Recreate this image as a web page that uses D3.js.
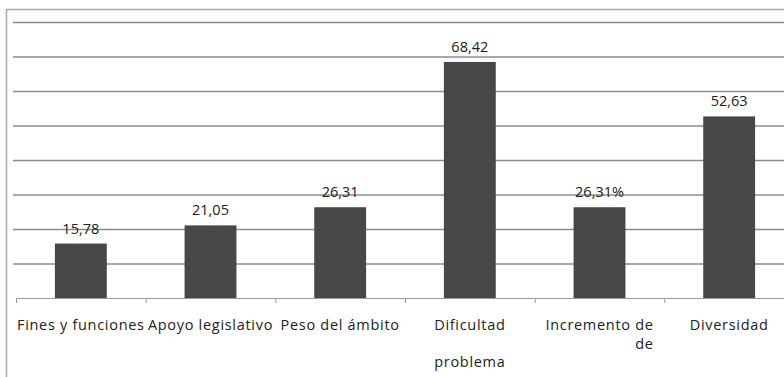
<!DOCTYPE html>
<html>
<head>
<meta charset="utf-8">
<script src="https://cdn.jsdelivr.net/npm/d3@7"></script>
<style>
	body { margin: 0; background: #fff; }
	svg { display: block; font-family: "Open Sans", sans-serif; }
	.grid line { stroke: #8c8c8c; stroke-width: 1.3; }
	.grid .domain { display: none; }
	.axis--x .domain { stroke: #9a9a9a; }
	.axis--x line { stroke: #9a9a9a; }
	.axis--x text { display: none; }
	.cat { letter-spacing: 0.7px; }
</style>
</head>
<body>
<svg class="chart" width="784" height="377"></svg>
<script>
(function() {

	var categories = ['Fines y funciones', 'Apoyo legislativo', 'Peso del ámbito', 'Dificultad', 'Incremento de', 'Diversidad']
	var values = [15.78, 21.05, 26.31, 68.42, 26.31, 52.63]
	var valueLabels = ['15,78', '21,05', '26,31', '68,42', '26,31%', '52,63']
	// extra label lines, as they show in the picture
	var extraLines = [null, null, null, {text: 'problema', dy: 37, align: 'middle'}, {text: 'de', dy: 19, align: 'end'}, null]
	var yTicks = [0, 10, 20, 30, 40, 50, 60, 70, 80]

	var svg = d3.select('.chart')
	var margin = { top: 22, left: 16, right: -10, bottom: 79 }
	var width = 784 - margin.left - margin.right
	var height = 377 - margin.top - margin.bottom
	var fontSize = 14.5

	// outer frame (cut off at the right edge)
	svg.append('path')
		.attr('d', 'M6.5,377 V9.5 H784')
		.attr('fill', 'none')
		.attr('stroke', '#a8a8a8')
		.attr('stroke-width', 1.5)

	var g = svg.append('g').attr('transform', 'translate(' + margin.left + ',' + margin.top + ')')

	var x = d3.scaleBand().domain(categories).range([0, width]).padding(0)
	var y = d3.scaleLinear().domain([0, 80]).range([height, 0])

	g.append('g')
		.attr('class', 'grid')
		.call(d3.axisLeft(y).tickValues(yTicks.slice(1)).tickSize(-width).tickFormat(''))
		.selectAll('.tick line').attr('x1', -3)

	var barW = x.bandwidth() * 0.4

	g.selectAll('.bar')
		.data(values)
		.enter()
		.append('rect')
		.attr('class', 'bar')
		.attr('x', function(d, i) { return x(categories[i]) + (x.bandwidth() - barW) / 2 })
		.attr('y', function(d) { return y(d) })
		.attr('width', barW)
		.attr('height', function(d) { return height - y(d) })
		.attr('fill', '#474747')

	g.selectAll('.val')
		.data(values)
		.enter()
		.append('text')
		.attr('class', 'val')
		.attr('x', function(d, i) { return x(categories[i]) + x.bandwidth() / 2 })
		.attr('y', function(d) { return y(d) - 10 })
		.attr('text-anchor', 'middle')
		.attr('font-size', fontSize)
		.attr('fill', '#222')
		.text(function(d, i) { return valueLabels[i] })

	var xAxis = g.append('g')
		.attr('class', 'axis axis--x')
		.attr('transform', 'translate(0,' + height + ')')
		.call(d3.axisBottom(x).tickSize(0))

	// band boundary ticks
	xAxis.selectAll('.sep')
		.data(categories)
		.enter()
		.append('line')
		.attr('class', 'sep')
		.attr('x1', function(d) { return x(d) + 0.5 })
		.attr('x2', function(d) { return x(d) + 0.5 })
		.attr('y1', 0)
		.attr('y2', 5)
		.attr('stroke', '#9a9a9a')

	categories.forEach(function(c, i) {
		var cx = x(c) + x.bandwidth() / 2
		var t = g.append('text')
			.attr('class', 'cat')
			.attr('x', cx)
			.attr('y', height + 32)
			.attr('text-anchor', 'middle')
			.attr('font-size', fontSize)
			.attr('fill', '#222')
			.text(c)
		var extra = extraLines[i]
		if (extra) {
			var w = t.node().getComputedTextLength()
			g.append('text')
				.attr('class', 'cat')
				.attr('x', extra.align === 'end' ? cx + w / 2 : cx)
				.attr('y', height + 32 + extra.dy)
				.attr('text-anchor', extra.align)
				.attr('font-size', fontSize)
				.attr('fill', '#222')
				.text(extra.text)
		}
	})
})()
</script>
</body>
</html>
